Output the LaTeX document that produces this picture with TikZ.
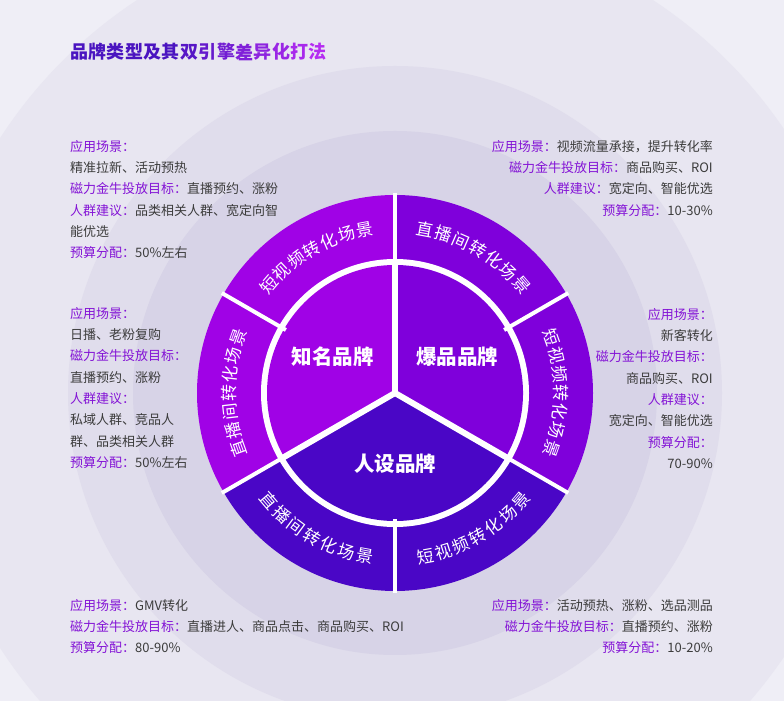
\documentclass[tikz,border=0pt]{standalone}
\usepackage{fontspec}
\setmainfont{Noto Sans CJK SC}
\usepackage{xcolor}

\definecolor{bgcorner}{HTML}{EFEEF6}
\definecolor{bgringa}{HTML}{E8E6F1}
\definecolor{bgringb}{HTML}{E0DDEC}
\definecolor{bgringc}{HTML}{D7D3E7}
\definecolor{famous}{HTML}{A002E6}
\definecolor{hotitem}{HTML}{7F00DB}
\definecolor{persona}{HTML}{4A06C6}
\definecolor{labpurple}{HTML}{8414D6}
\definecolor{bodygray}{HTML}{3C3C3C}
\definecolor{ttlstart}{HTML}{4A14C0}
\definecolor{ttlend}{HTML}{B52CF2}

\newcommand{\lbl}[1]{\textcolor{labpurple}{#1}}

\tikzset{
  infotext/.style={font=\fontsize{13}{21.3}\selectfont, text=bodygray, inner sep=0pt},
  ringchar/.style={font=\fontsize{17}{17}\selectfont, text=white, inner sep=0pt},
  brandlabel/.style={font=\bfseries\fontsize{20.5}{20.5}\selectfont, text=white, inner sep=0pt},
  titlechar/.style={font=\bfseries\fontsize{18}{18}\selectfont, inner sep=0pt},
}

\begin{document}
\begin{tikzpicture}[x=1pt,y=1pt]
  \useasboundingbox (0,0) rectangle (784,701);
  % background rings
  \begin{scope}
    \clip (0,0) rectangle (784,701);
    \fill[bgcorner] (0,0) rectangle (784,701);
    \fill[bgringa] (395,308) circle (470);
    \fill[bgringb] (395,308) circle (327);
    \fill[bgringc] (395,308) circle (262);
  \end{scope}

  \coordinate (c) at (395,308);

  % outer ring
  \foreach \a/\col in {90/famous,150/famous,210/persona,270/persona,330/hotitem,30/hotitem}
    \fill[\col] (c) -- ++(\a:198) arc[start angle=\a, delta angle=60, radius=198] -- cycle;
  \fill[white] (c) circle (134);
  % inner pie
  \foreach \a/\col in {90/famous,210/persona,330/hotitem}
    \fill[\col] (c) -- ++(\a:128) arc[start angle=\a, delta angle=120, radius=128] -- cycle;
  \foreach \a in {30,90,...,330}
    \draw[white, line width=4pt] ([shift={(\a:126)}]c) -- ([shift={(\a:200)}]c);
  \foreach \a in {90,210,330}
    \draw[white, line width=6pt] (c) -- ([shift={(\a:130)}]c);

  % ring texts
  \foreach \mid/\lst/\flip in {120/{短,视,频,转,化,场,景}/0,180/{直,播,间,转,化,场,景}/0,
      60/{直,播,间,转,化,场,景}/0,0/{短,视,频,转,化,场,景}/0,
      240/{直,播,间,转,化,场,景}/1,300/{短,视,频,转,化,场,景}/1}{
    \foreach \ch [count=\i] in \lst {
      \pgfmathsetmacro{\ang}{\flip==0 ? \mid+19.5-(\i-1)*6.5 : \mid-19.5+(\i-1)*6.5}
      \pgfmathsetmacro{\rot}{\flip==0 ? \ang-90 : \ang+90}
      \node[ringchar, rotate=\rot] (seg\mid-\i) at ([shift={(\ang:166)}]c) {\ch};
    }
  }

  % brand labels
  \node[brandlabel] (famousbrand) at ([shift={(150:72)}]c) {知名品牌};
  \node[brandlabel] (hotbrand) at ([shift={(30:72)}]c) {爆品品牌};
  \node[brandlabel] (personabrand) at ([shift={(270:71)}]c) {人设品牌};

  % title
  \foreach \ch [count=\i] in {品,牌,类,型,及,其,双,引,擎,差,异,化,打,法} {
    \pgfmathsetmacro{\pct}{max(0,min(100,(\i-6)*12.5))}
    \node[titlechar, text=ttlend!\pct!ttlstart] (ttl\i) at ({70+(\i-0.5)*18.36},649) {\ch};
  }

  % info blocks
  \node[infotext, anchor=north west, align=left] (topleft) at (70,561)
    {\lbl{应用场景：}\\精准拉新、活动预热\\\lbl{磁力金牛投放目标：}直播预约、涨粉\\
     \lbl{人群建议：}品类相关人群、宽定向智\\能优选\\\lbl{预算分配：}50\%左右};
  \node[infotext, anchor=north east, align=right] (topright) at (713,561)
    {\lbl{应用场景：}视频流量承接，提升转化率\\\lbl{磁力金牛投放目标：}商品购买、ROI\\
     \lbl{人群建议：}宽定向、智能优选\\\lbl{预算分配：}10-30\%};
  \node[infotext, anchor=north west, align=left] (midleft) at (70,394)
    {\lbl{应用场景：}\\日播、老粉复购\\\lbl{磁力金牛投放目标：}\\直播预约、涨粉\\
     \lbl{人群建议：}\\私域人群、竞品人\\群、品类相关人群\\\lbl{预算分配：}50\%左右};
  \node[infotext, anchor=north east, align=right] (midright) at (713,393)
    {\lbl{应用场景：}\\新客转化\\\lbl{磁力金牛投放目标：}\\商品购买、ROI\\
     \lbl{人群建议：}\\宽定向、智能优选\\\lbl{预算分配：}\\70-90\%};
  \node[infotext, anchor=north west, align=left] (bottomleft) at (70,102)
    {\lbl{应用场景：}GMV转化\\\lbl{磁力金牛投放目标：}直播进人、商品点击、商品购买、ROI\\
     \lbl{预算分配：}80-90\%};
  \node[infotext, anchor=north east, align=right] (bottomright) at (713,102)
    {\lbl{应用场景：}活动预热、涨粉、选品测品\\\lbl{磁力金牛投放目标：}直播预约、涨粉\\
     \lbl{预算分配：}10-20\%};
\end{tikzpicture}
\end{document}
